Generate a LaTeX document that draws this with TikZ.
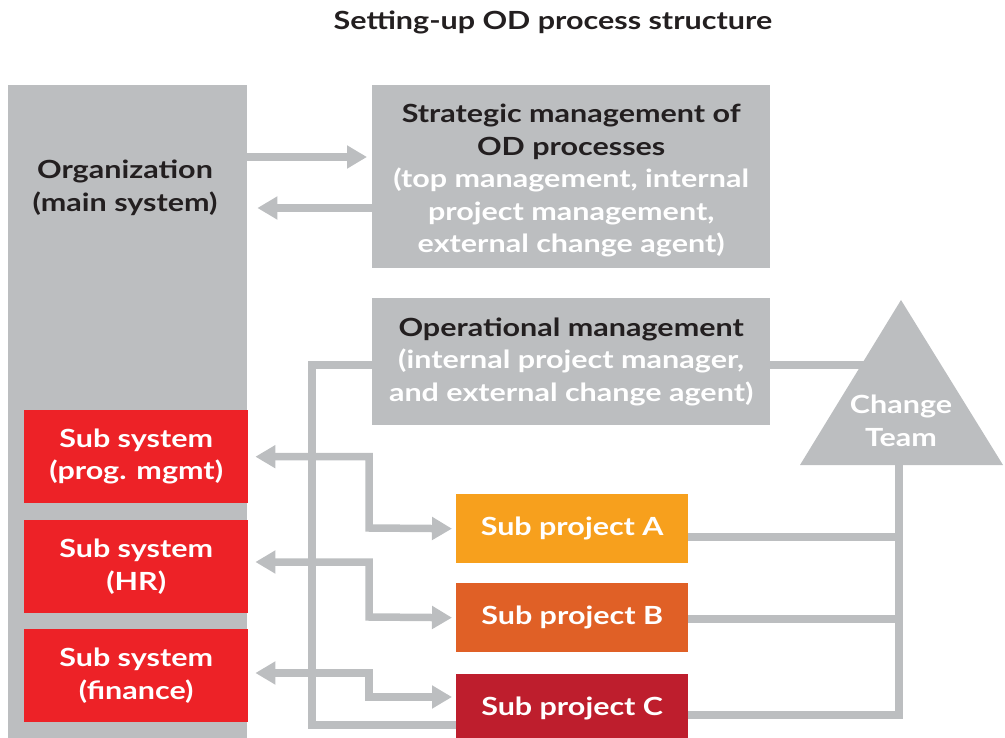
\documentclass[tikz,border=0pt]{standalone}
\usepackage{fontspec}
\setmainfont[FakeStretch=1.22]{Lato}
\usetikzlibrary{arrows.meta,positioning,calc}
\definecolor{odgrey}{HTML}{BCBEC0}
\definecolor{odtext}{HTML}{231F20}
\definecolor{odred}{HTML}{ED2227}
\definecolor{odorange}{HTML}{F7A01D}
\definecolor{odrust}{HTML}{E06026}
\definecolor{odcrimson}{HTML}{BE1E2D}
\newcommand{\lite}[1]{\textcolor{white}{#1}}

\tikzset{
  labeltext/.style={align=center, font=\bfseries\fontsize{25}{32.5}\selectfont},
  box/.style={labeltext, inner sep=0pt, anchor=north west},
  link/.style={draw=odgrey, line width=7.5pt},
  arrowlink/.style={-{Triangle[length=20pt,width=22pt]}},
  twoway/.style={{Triangle[length=20pt,width=22pt]}-{Triangle[length=20pt,width=22pt]}},
}

\begin{document}
\begin{tikzpicture}[x=1pt,y=-1pt]
  \useasboundingbox (0,0) rectangle (1005,738);
% Title
  \node[labeltext, text=odtext] (title) at (553,22) {Setting-up OD process structure};
% Main system column
  \node[box, fill=odgrey, minimum width=239pt, minimum height=660pt] (org) at (8,85) {};
  \node[labeltext, text=odtext] (orglabel) at (125,188) {Organization\\(main system)};
% Strategic management box
  \node[box, fill=odgrey, text=odtext, minimum width=398pt, minimum height=183pt] (strat) at (372,85)
    {\rule{0pt}{27pt}Strategic management of\\OD processes\\\lite{(top management, internal}\\\lite{project management,}\\\lite{external change agent)}};
% Operational management box
  \node[box, fill=odgrey, text=odtext, minimum width=398pt, minimum height=127pt] (ops) at (372,298)
    {Operational management\\\lite{(internal project manager,}\\\lite{and external change agent)}};
% Sub systems
  \node[box, fill=odred, text=white, minimum width=224pt, minimum height=93pt] (subprog) at (24,410) {Sub system\\(prog. mgmt)};
  \node[box, fill=odred, text=white, minimum width=224pt, minimum height=93pt] (subhr) at (24,520) {Sub system\\(HR)};
  \node[box, fill=odred, text=white, minimum width=224pt, minimum height=93pt] (subfin) at (24,629) {Sub system\\(finance)};
% Sub projects
  \node[box, fill=odorange, text=white, minimum width=232pt, minimum height=69pt] (subA) at (456,494) {Sub project A};
  \node[box, fill=odrust, text=white, minimum width=232pt, minimum height=69pt] (subB) at (456,583) {Sub project B};
  \node[box, fill=odcrimson, text=white, minimum width=232pt, minimum height=69pt] (subC) at (456,674) {Sub project C};
% Change team triangle corners
  \coordinate (apex) at (901,300);
  \coordinate (baseL) at (800,465);
  \coordinate (baseR) at (1003,465);
  \coordinate (trunk) at (899,465);

% Organization <-> strategic management
  \draw[link, arrowlink, shorten >=5pt] (org.east |- 0,157) -- (strat.west |- 0,157);
  \draw[link, arrowlink, shorten >=10pt] (strat.west |- 0,208) -- (org.east |- 0,208);
% Operational management to change team
  \draw[link] (ops.east |- 0,365) -- (apex |- 0,365);
% Operational management loop down to sub project C
  \draw[link] (ops.west |- 0,365) -| (312,725) -- (subC.west |- 0,725);
% Sub systems <-> sub projects
  \draw[link, twoway, shorten <=7pt, shorten >=4pt] (subprog.east) -| (369,528) -- (subA.west);
  \draw[link, twoway, shorten <=7pt, shorten >=4pt] (subhr.east |- 0,562) -| (369,617) -- (subB.west);
  \draw[link, twoway, shorten <=7pt, shorten >=4pt] (subfin.east |- 0,673) -| (369,697) -- (subC.west |- 0,697);
% Sub projects to change team
  \draw[link] (subA.east |- 0,537) -- (trunk |- 0,537);
  \draw[link] (subB.east |- 0,619) -- (trunk |- 0,619);
  \draw[link] (subC.east |- 0,715) -| (trunk);
% Change team
  \fill[odgrey] (apex) -- (baseR) -- (baseL) -- cycle;
  \node[labeltext, text=white] (team) at (901,421) {Change\\Team};
\end{tikzpicture}
\end{document}
